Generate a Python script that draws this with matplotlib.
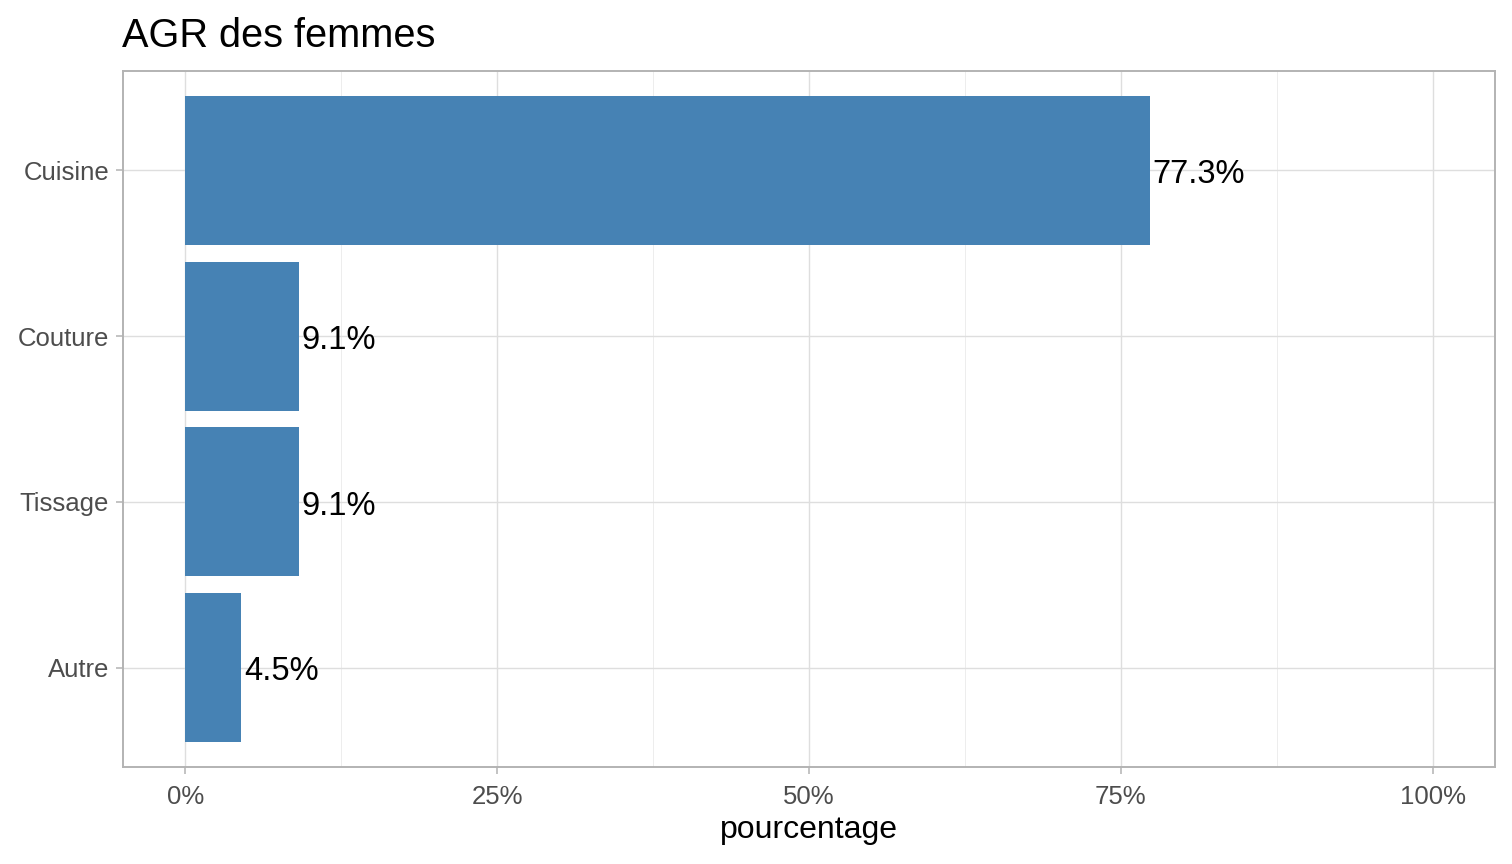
import matplotlib
matplotlib.use("Agg")
import matplotlib.pyplot as plt
from matplotlib.ticker import FixedLocator

categories = ["Autre", "Tissage", "Couture", "Cuisine"]
values = [4.5, 9.1, 9.1, 77.3]
labels = ["4.5%", "9.1%", "9.1%", "77.3%"]
xticks = [0, 25, 50, 75, 100]
xticklabels = ["0%", "25%", "50%", "75%", "100%"]

plt.rcParams['font.family'] = ['Liberation Sans', 'DejaVu Sans']

fig = plt.figure(figsize=(15.12, 8.64), dpi=100)
W, H = 1512, 864
ax = fig.add_axes([123 / W, 1 - 767 / H, (1495 - 123) / W, (767 - 71) / H])

ypos = list(range(len(categories)))
ax.barh(ypos, values, height=0.9, color="#4682B4", zorder=3)
for y, v, lab in zip(ypos, values, labels):
    ax.annotate(lab, (v, y), xytext=(2, -3), textcoords="offset points",
                ha="left", va="center", fontsize=23.5, color="black", zorder=4)

ax.set_xlim(-5, 105)
ax.set_ylim(-0.6, len(categories) - 0.4)
ax.set_yticks(ypos)
ax.set_yticklabels(categories)
ax.set_xticks(xticks)
ax.set_xticklabels(xticklabels)
ax.xaxis.set_minor_locator(FixedLocator([12.5, 37.5, 62.5, 87.5]))

ax.grid(True, which="major", color="#DEDEDE", linewidth=1.0, zorder=0)
ax.grid(True, which="minor", axis="x", color="#EDEDED", linewidth=0.7, zorder=0)
ax.set_axisbelow(True)
for s in ax.spines.values():
    s.set_color("#B3B3B3")
    s.set_linewidth(1.4)
ax.tick_params(axis="both", which="major", color="#B3B3B3", length=5, width=1.1,
               labelsize=18.5, labelcolor="#4D4D4D")
ax.tick_params(axis="x", which="major", pad=8)
ax.tick_params(axis="y", which="major", pad=5)
for t in ax.get_yticklabels():
    t.set_va("center_baseline")
ax.tick_params(axis="x", which="minor", length=0)

ax.set_xlabel("pourcentage", fontsize=23, color="black", labelpad=4)
fig.text(122 / W, 1 - 47 / H, "AGR des femmes", fontsize=28.6, color="black",
         ha="left", va="baseline")

fig.savefig("out.png", dpi=100, facecolor="white")
